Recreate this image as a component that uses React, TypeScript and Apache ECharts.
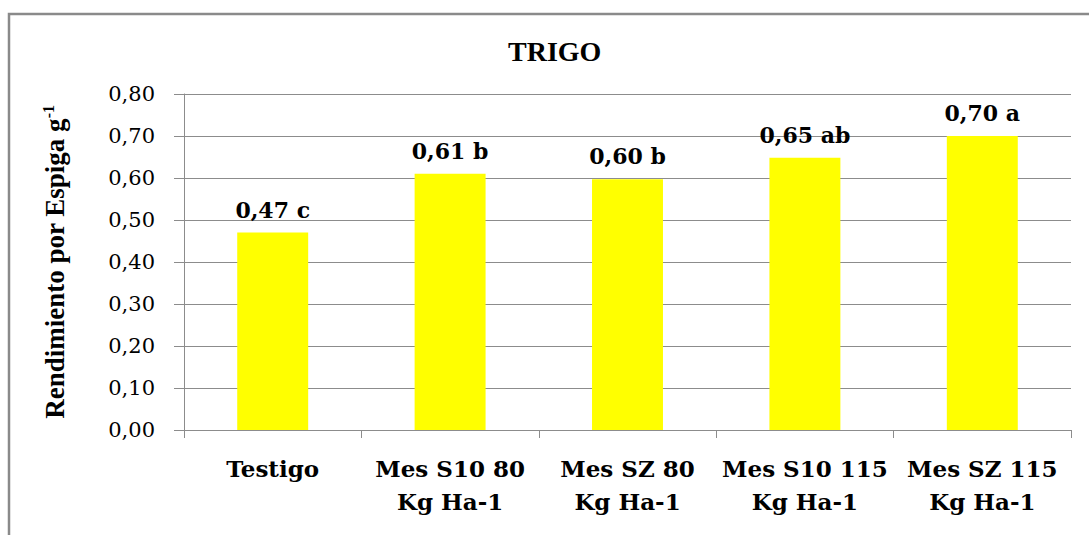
import React, { useEffect, useRef } from "react";
import * as echarts from "echarts";

const categories = [
  "Testigo",
  "Mes S10 80\nKg Ha-1",
  "Mes SZ 80\nKg Ha-1",
  "Mes S10 115\nKg Ha-1",
  "Mes SZ 115\nKg Ha-1",
];
const values = [0.47, 0.61, 0.597, 0.648, 0.7];
const letters = ["c", "b", "b", "ab", "a"];
const yTicks = { min: 0, max: 0.8, interval: 0.1 };

export default function App() {
  const ref = useRef<HTMLDivElement>(null);
  useEffect(() => {
    if (!ref.current) return;
    const chart = echarts.init(ref.current, null, { renderer: "svg" });
    const fmt = (v: number) => v.toFixed(2).replace(".", ",");
    chart.setOption({
      animation: false,
      backgroundColor: "#fff",
      title: {
        text: "TRIGO",
        left: 503,
        top: 32,
        textStyle: {
          fontFamily: "Liberation Serif",
          fontWeight: "bold",
          fontSize: 28,
          color: "#000",
        },
      },
      graphic: [
        {
          type: "rect",
          shape: { x: 9, y: 14, width: 1200, height: 700 },
          style: { fill: "none", stroke: "#8a8a8a", lineWidth: 2.5 },
          silent: true,
          z: 100,
        },
      ],
      grid: { left: 184, right: 18, top: 94, bottom: 105, containLabel: false },
      xAxis: {
        type: "category",
        data: categories,
        axisLine: { lineStyle: { color: "#8c8c8c", width: 1 } },
        axisTick: { show: true, length: 8, lineStyle: { color: "#8c8c8c" } },
        axisLabel: {
          margin: 22,
          interval: 0,
          fontFamily: "DejaVu Serif",
          fontWeight: "bold",
          fontSize: 23,
          lineHeight: 33,
          color: "#000",
        },
      },
      yAxis: {
        type: "value",
        min: yTicks.min,
        max: yTicks.max,
        interval: yTicks.interval,
        name: "Rendimiento por Espiga g{s|-1}",
        nameLocation: "middle",
        nameGap: 114,
        nameRotate: 90,
        nameTextStyle: {
          fontFamily: "Liberation Serif",
          fontWeight: "bold",
          fontSize: 27,
          color: "#000",
          rich: {
            s: {
              fontFamily: "Liberation Serif",
              fontWeight: "bold",
              fontSize: 16,
              color: "#000",
              padding: [0, 0, 14, 0],
            },
          },
        },
        axisLine: { show: true, lineStyle: { color: "#8c8c8c", width: 1 } },
        axisTick: { show: true, length: 10, lineStyle: { color: "#8c8c8c" } },
        splitLine: { show: true, lineStyle: { color: "#8c8c8c", width: 1 } },
        axisLabel: {
          margin: 29,
          fontFamily: "DejaVu Serif",
          fontSize: 21,
          color: "#000",
          formatter: (v: number) => fmt(v),
        },
      },
      series: [
        {
          type: "bar",
          data: values,
          barWidth: "40%",
          itemStyle: { color: "#ffff00" },
          label: {
            show: true,
            position: "top",
            distance: 12,
            fontFamily: "DejaVu Serif",
            fontWeight: "bold",
            fontSize: 22,
            color: "#000",
            formatter: (p: any) => fmt(p.value) + " " + letters[p.dataIndex],
          },
        },
      ],
    });
    return () => chart.dispose();
  }, []);
  return (
    <div
      ref={ref}
      style={{ position: "fixed", left: 0, top: 0, width: 1089, height: 535 }}
    />
  );
}
